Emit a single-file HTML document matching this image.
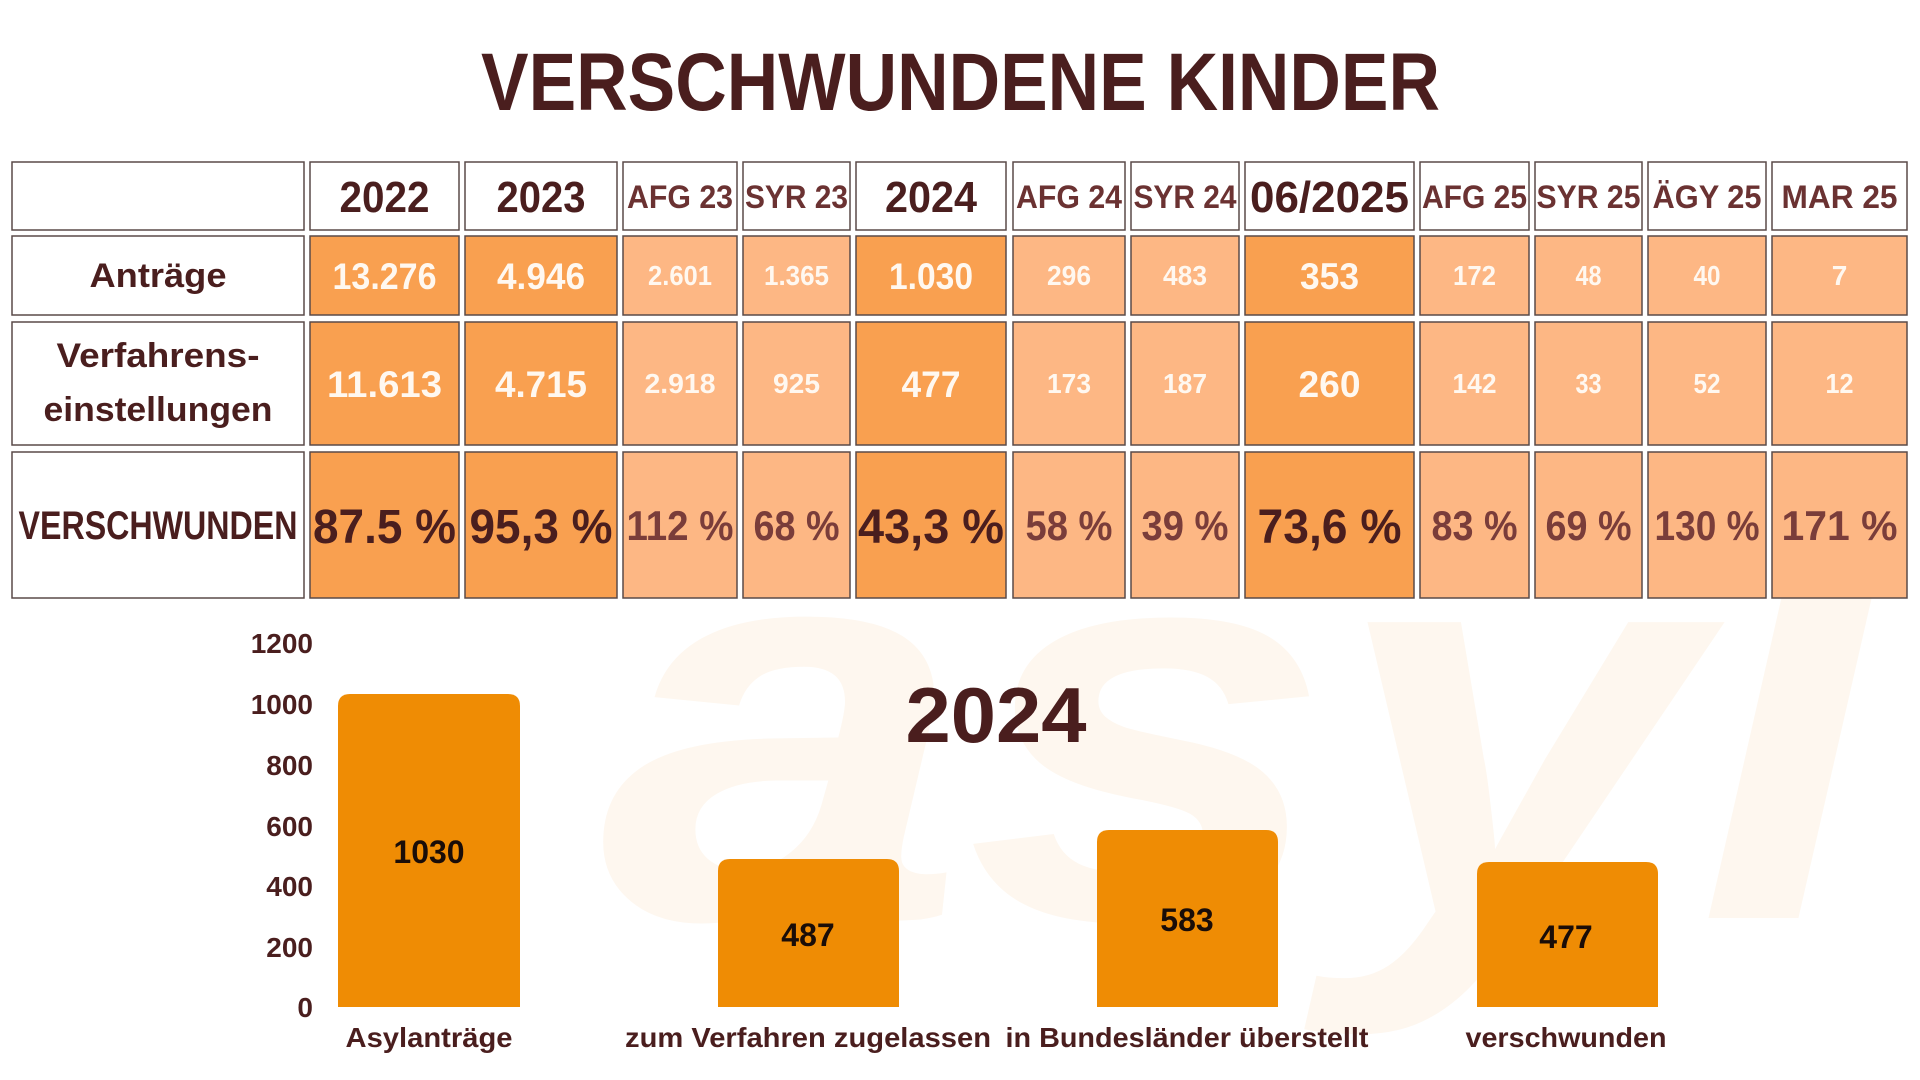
<!DOCTYPE html>
<html><head><meta charset="utf-8"><style>
html,body{margin:0;padding:0;background:#fff;width:1920px;height:1080px;overflow:hidden}
svg{display:block}
text{font-family:"Liberation Sans Narrow","Liberation Sans",sans-serif;font-weight:bold}
</style></head><body>
<svg width="1920" height="1080" viewBox="0 0 1920 1080" xmlns="http://www.w3.org/2000/svg">
<rect width="1920" height="1080" fill="#fff"/>
<!-- watermark -->
<text x="600" y="918" font-size="560" font-style="italic" fill="#fef7ef" textLength="1280" lengthAdjust="spacingAndGlyphs">asyl</text>
<!-- title -->
<text x="481" y="110" font-size="82" fill="#4a1e1e" textLength="959" lengthAdjust="spacingAndGlyphs">VERSCHWUNDENE KINDER</text>

<g stroke="#5a4a48" stroke-width="1.5">
<rect x="12" y="162" width="292" height="68" fill="#fff"/>
<rect x="310" y="162" width="149" height="68" fill="#fff"/>
<rect x="465" y="162" width="152" height="68" fill="#fff"/>
<rect x="623" y="162" width="114" height="68" fill="#fff"/>
<rect x="743" y="162" width="107" height="68" fill="#fff"/>
<rect x="856" y="162" width="150" height="68" fill="#fff"/>
<rect x="1013" y="162" width="112" height="68" fill="#fff"/>
<rect x="1131" y="162" width="108" height="68" fill="#fff"/>
<rect x="1245" y="162" width="169" height="68" fill="#fff"/>
<rect x="1420" y="162" width="109" height="68" fill="#fff"/>
<rect x="1535" y="162" width="107" height="68" fill="#fff"/>
<rect x="1648" y="162" width="118" height="68" fill="#fff"/>
<rect x="1772" y="162" width="135" height="68" fill="#fff"/>

<rect x="12" y="236" width="292" height="79" fill="#fff"/>
<rect x="310" y="236" width="149" height="79" fill="#f9a050"/>
<rect x="465" y="236" width="152" height="79" fill="#f9a050"/>
<rect x="623" y="236" width="114" height="79" fill="#fdb784"/>
<rect x="743" y="236" width="107" height="79" fill="#fdb784"/>
<rect x="856" y="236" width="150" height="79" fill="#f9a050"/>
<rect x="1013" y="236" width="112" height="79" fill="#fdb784"/>
<rect x="1131" y="236" width="108" height="79" fill="#fdb784"/>
<rect x="1245" y="236" width="169" height="79" fill="#f9a050"/>
<rect x="1420" y="236" width="109" height="79" fill="#fdb784"/>
<rect x="1535" y="236" width="107" height="79" fill="#fdb784"/>
<rect x="1648" y="236" width="118" height="79" fill="#fdb784"/>
<rect x="1772" y="236" width="135" height="79" fill="#fdb784"/>

<rect x="12" y="322" width="292" height="123" fill="#fff"/>
<rect x="310" y="322" width="149" height="123" fill="#f9a050"/>
<rect x="465" y="322" width="152" height="123" fill="#f9a050"/>
<rect x="623" y="322" width="114" height="123" fill="#fdb784"/>
<rect x="743" y="322" width="107" height="123" fill="#fdb784"/>
<rect x="856" y="322" width="150" height="123" fill="#f9a050"/>
<rect x="1013" y="322" width="112" height="123" fill="#fdb784"/>
<rect x="1131" y="322" width="108" height="123" fill="#fdb784"/>
<rect x="1245" y="322" width="169" height="123" fill="#f9a050"/>
<rect x="1420" y="322" width="109" height="123" fill="#fdb784"/>
<rect x="1535" y="322" width="107" height="123" fill="#fdb784"/>
<rect x="1648" y="322" width="118" height="123" fill="#fdb784"/>
<rect x="1772" y="322" width="135" height="123" fill="#fdb784"/>

<rect x="12" y="452" width="292" height="146" fill="#fff"/>
<rect x="310" y="452" width="149" height="146" fill="#f9a050"/>
<rect x="465" y="452" width="152" height="146" fill="#f9a050"/>
<rect x="623" y="452" width="114" height="146" fill="#fdb784"/>
<rect x="743" y="452" width="107" height="146" fill="#fdb784"/>
<rect x="856" y="452" width="150" height="146" fill="#f9a050"/>
<rect x="1013" y="452" width="112" height="146" fill="#fdb784"/>
<rect x="1131" y="452" width="108" height="146" fill="#fdb784"/>
<rect x="1245" y="452" width="169" height="146" fill="#f9a050"/>
<rect x="1420" y="452" width="109" height="146" fill="#fdb784"/>
<rect x="1535" y="452" width="107" height="146" fill="#fdb784"/>
<rect x="1648" y="452" width="118" height="146" fill="#fdb784"/>
<rect x="1772" y="452" width="135" height="146" fill="#fdb784"/>
</g>

<g text-anchor="middle">
<text x="384.5" y="212" font-size="44" fill="#4a1e1e" textLength="90" lengthAdjust="spacingAndGlyphs">2022</text>
<text x="541" y="212" font-size="44" fill="#4a1e1e" textLength="89" lengthAdjust="spacingAndGlyphs">2023</text>
<text x="680" y="208" font-size="32" fill="#6b3232" textLength="106" lengthAdjust="spacingAndGlyphs">AFG 23</text>
<text x="796.5" y="208" font-size="32" fill="#6b3232" textLength="103" lengthAdjust="spacingAndGlyphs">SYR 23</text>
<text x="931" y="212" font-size="44" fill="#4a1e1e" textLength="92" lengthAdjust="spacingAndGlyphs">2024</text>
<text x="1069" y="208" font-size="32" fill="#6b3232" textLength="106" lengthAdjust="spacingAndGlyphs">AFG 24</text>
<text x="1185" y="208" font-size="32" fill="#6b3232" textLength="103" lengthAdjust="spacingAndGlyphs">SYR 24</text>
<text x="1329.5" y="212" font-size="44" fill="#4a1e1e" textLength="159" lengthAdjust="spacingAndGlyphs">06/2025</text>
<text x="1474.5" y="208" font-size="32" fill="#6b3232" textLength="105" lengthAdjust="spacingAndGlyphs">AFG 25</text>
<text x="1588.5" y="208" font-size="32" fill="#6b3232" textLength="104" lengthAdjust="spacingAndGlyphs">SYR 25</text>
<text x="1707" y="208" font-size="32" fill="#6b3232" textLength="109" lengthAdjust="spacingAndGlyphs">ÄGY 25</text>
<text x="1839.5" y="208" font-size="32" fill="#6b3232" textLength="116" lengthAdjust="spacingAndGlyphs">MAR 25</text>

<text x="158" y="287" font-size="34" fill="#4a1e1e" textLength="137" lengthAdjust="spacingAndGlyphs">Anträge</text>
<text x="158" y="367" font-size="34" fill="#4a1e1e" textLength="203" lengthAdjust="spacingAndGlyphs">Verfahrens-</text>
<text x="158" y="421" font-size="34" fill="#4a1e1e" textLength="229" lengthAdjust="spacingAndGlyphs">einstellungen</text>
<text x="158" y="539" font-size="40" fill="#4a1e1e" textLength="279" lengthAdjust="spacingAndGlyphs">VERSCHWUNDEN</text>

<text x="384.5" y="289" font-size="37" fill="#fff8f0" textLength="104" lengthAdjust="spacingAndGlyphs">13.276</text>
<text x="541" y="289" font-size="37" fill="#fff8f0" textLength="88" lengthAdjust="spacingAndGlyphs">4.946</text>
<text x="680" y="285" font-size="28" fill="#fff8f0" textLength="64" lengthAdjust="spacingAndGlyphs">2.601</text>
<text x="796.5" y="285" font-size="28" fill="#fff8f0" textLength="65" lengthAdjust="spacingAndGlyphs">1.365</text>
<text x="931" y="289" font-size="37" fill="#fff8f0" textLength="84" lengthAdjust="spacingAndGlyphs">1.030</text>
<text x="1069" y="285" font-size="28" fill="#fff8f0" textLength="44" lengthAdjust="spacingAndGlyphs">296</text>
<text x="1185" y="285" font-size="28" fill="#fff8f0" textLength="44" lengthAdjust="spacingAndGlyphs">483</text>
<text x="1329.5" y="289" font-size="37" fill="#fff8f0" textLength="59" lengthAdjust="spacingAndGlyphs">353</text>
<text x="1474.5" y="285" font-size="28" fill="#fff8f0" textLength="43" lengthAdjust="spacingAndGlyphs">172</text>
<text x="1588.5" y="285" font-size="28" fill="#fff8f0" textLength="26" lengthAdjust="spacingAndGlyphs">48</text>
<text x="1707" y="285" font-size="28" fill="#fff8f0" textLength="27" lengthAdjust="spacingAndGlyphs">40</text>
<text x="1839.5" y="285" font-size="28" fill="#fff8f0">7</text>

<text x="384.5" y="397" font-size="37" fill="#fff8f0" textLength="115" lengthAdjust="spacingAndGlyphs">11.613</text>
<text x="541" y="397" font-size="37" fill="#fff8f0" textLength="92" lengthAdjust="spacingAndGlyphs">4.715</text>
<text x="680" y="393" font-size="28" fill="#fff8f0" textLength="71" lengthAdjust="spacingAndGlyphs">2.918</text>
<text x="796.5" y="393" font-size="28" fill="#fff8f0" textLength="47" lengthAdjust="spacingAndGlyphs">925</text>
<text x="931" y="397" font-size="37" fill="#fff8f0" textLength="59" lengthAdjust="spacingAndGlyphs">477</text>
<text x="1069" y="393" font-size="28" fill="#fff8f0" textLength="44" lengthAdjust="spacingAndGlyphs">173</text>
<text x="1185" y="393" font-size="28" fill="#fff8f0" textLength="44" lengthAdjust="spacingAndGlyphs">187</text>
<text x="1329.5" y="397" font-size="37" fill="#fff8f0" textLength="62" lengthAdjust="spacingAndGlyphs">260</text>
<text x="1474.5" y="393" font-size="28" fill="#fff8f0" textLength="44" lengthAdjust="spacingAndGlyphs">142</text>
<text x="1588.5" y="393" font-size="28" fill="#fff8f0" textLength="26" lengthAdjust="spacingAndGlyphs">33</text>
<text x="1707" y="393" font-size="28" fill="#fff8f0" textLength="27" lengthAdjust="spacingAndGlyphs">52</text>
<text x="1839.5" y="393" font-size="28" fill="#fff8f0" textLength="28" lengthAdjust="spacingAndGlyphs">12</text>

<text x="384.5" y="543" font-size="48" fill="#4a1e1e" textLength="143" lengthAdjust="spacingAndGlyphs">87.5 %</text>
<text x="541" y="543" font-size="48" fill="#4a1e1e" textLength="143" lengthAdjust="spacingAndGlyphs">95,3 %</text>
<text x="680" y="540" font-size="42" fill="#7a3d3a" textLength="107" lengthAdjust="spacingAndGlyphs">112 %</text>
<text x="796.5" y="540" font-size="42" fill="#7a3d3a" textLength="86" lengthAdjust="spacingAndGlyphs">68 %</text>
<text x="931" y="543" font-size="48" fill="#4a1e1e" textLength="146" lengthAdjust="spacingAndGlyphs">43,3 %</text>
<text x="1069" y="540" font-size="42" fill="#7a3d3a" textLength="87" lengthAdjust="spacingAndGlyphs">58 %</text>
<text x="1185" y="540" font-size="42" fill="#7a3d3a" textLength="87" lengthAdjust="spacingAndGlyphs">39 %</text>
<text x="1329.5" y="543" font-size="48" fill="#4a1e1e" textLength="144" lengthAdjust="spacingAndGlyphs">73,6 %</text>
<text x="1474.5" y="540" font-size="42" fill="#7a3d3a" textLength="86" lengthAdjust="spacingAndGlyphs">83 %</text>
<text x="1588.5" y="540" font-size="42" fill="#7a3d3a" textLength="86" lengthAdjust="spacingAndGlyphs">69 %</text>
<text x="1707" y="540" font-size="42" fill="#7a3d3a" textLength="105" lengthAdjust="spacingAndGlyphs">130 %</text>
<text x="1839.5" y="540" font-size="42" fill="#7a3d3a" textLength="116" lengthAdjust="spacingAndGlyphs">171 %</text>
</g>

<g text-anchor="end">
<text x="313" y="653" fill="#4a1e1e" font-size="28">1200</text>
<text x="313" y="714" fill="#4a1e1e" font-size="28">1000</text>
<text x="313" y="775" fill="#4a1e1e" font-size="28">800</text>
<text x="313" y="836" fill="#4a1e1e" font-size="28">600</text>
<text x="313" y="896" fill="#4a1e1e" font-size="28">400</text>
<text x="313" y="957" fill="#4a1e1e" font-size="28">200</text>
<text x="313" y="1017" fill="#4a1e1e" font-size="28">0</text>
</g>

<g fill="#ef8c04">
<path d="M338 1007 V706 Q338 694 350 694 H508 Q520 694 520 706 V1007 Z"/>
<path d="M718 1007 V871 Q718 859 730 859 H887 Q899 859 899 871 V1007 Z"/>
<path d="M1097 1007 V842 Q1097 830 1109 830 H1266 Q1278 830 1278 842 V1007 Z"/>
<path d="M1477 1007 V874 Q1477 862 1489 862 H1646 Q1658 862 1658 874 V1007 Z"/>
</g>
<g text-anchor="middle">
<text x="429" y="863" font-size="32" fill="#1a0d08">1030</text>
<text x="808" y="946" font-size="32" fill="#1a0d08">487</text>
<text x="1187" y="931" font-size="32" fill="#1a0d08">583</text>
<text x="1566" y="948" font-size="32" fill="#1a0d08">477</text>
<text x="429" y="1047" font-size="28" fill="#4a1e1e" textLength="167" lengthAdjust="spacingAndGlyphs">Asylanträge</text>
<text x="808" y="1047" font-size="28" fill="#4a1e1e" textLength="366" lengthAdjust="spacingAndGlyphs">zum Verfahren zugelassen</text>
<text x="1187" y="1047" font-size="28" fill="#4a1e1e" textLength="363" lengthAdjust="spacingAndGlyphs">in Bundesländer überstellt</text>
<text x="1566" y="1047" font-size="28" fill="#4a1e1e" textLength="201" lengthAdjust="spacingAndGlyphs">verschwunden</text>
<text x="996" y="742" font-size="78" fill="#4a1e1e" textLength="181" lengthAdjust="spacingAndGlyphs">2024</text>
</g>
</svg>
</body></html>
